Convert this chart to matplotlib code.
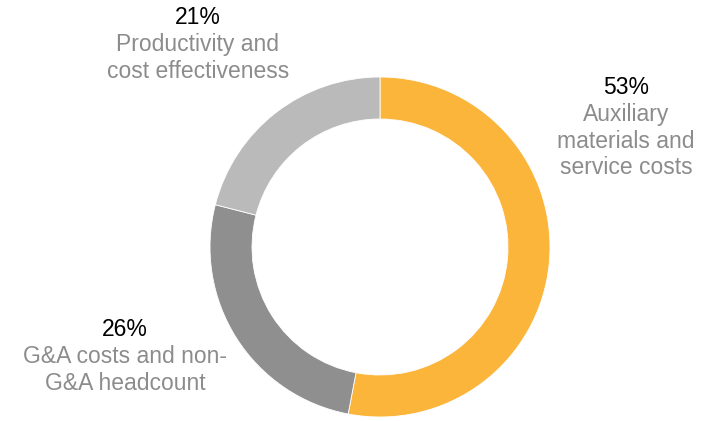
import matplotlib.pyplot as plt

plt.rcParams['font.family'] = ['Liberation Sans', 'DejaVu Sans']

categories = ["Auxiliary\nmaterials and\nservice costs",
              "G&A costs and non-\nG&A headcount",
              "Productivity and\ncost effectiveness"]
shares = [53, 26, 21]
colors = ["#FBB53B", "#8F8F8F", "#BABABA"]

# label anchor points (pixel coords, y measured from the bottom)
label_pos = [(626, 421 - 88), (125, 421 - 330), (198, 421 - 18)]
line_step = 26.5

fig = plt.figure(figsize=(7.05, 4.21), dpi=100)
ax = fig.add_axes([0, 0, 1, 1])

ax.pie(shares, colors=colors, startangle=90, counterclock=False,
       center=(380, 421 - 247), radius=170, frame=True,
       wedgeprops=dict(width=42, edgecolor='white', linewidth=0.6))
ax.set_xlim(0, 705)
ax.set_ylim(0, 421)
ax.set_aspect('equal')
ax.axis('off')

for name, val, (x, y) in zip(categories, shares, label_pos):
    ax.text(x, y, f"{val}%", ha='center', va='center', fontsize=16.5, color='black')
    for i, line in enumerate(name.split("\n"), start=1):
        ax.text(x, y - i * line_step, line, ha='center', va='center',
                fontsize=16.5, color='#8C8C8C')

fig.savefig("out.png", dpi=100)
